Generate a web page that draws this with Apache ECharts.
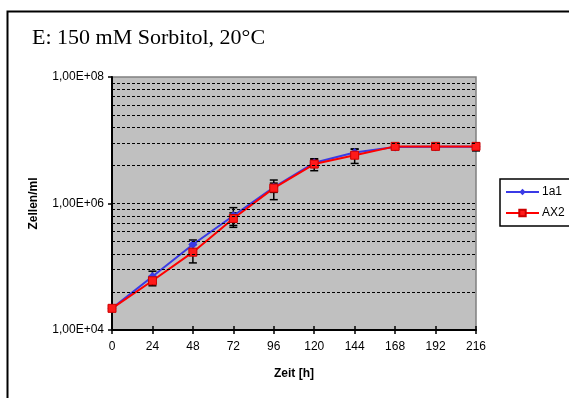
<!DOCTYPE html>
<html>
<head>
<meta charset="utf-8">
<script src="https://cdn.jsdelivr.net/npm/echarts@6/dist/echarts.min.js"></script>
<style>
  html, body { margin: 0; padding: 0; background: #fff; }
  #chart { width: 569px; height: 398px; }
</style>
</head>
<body>
<div id="chart"></div>
<script>
// Growth curves: cells per ml over time, two strains
const hours = [0, 24, 48, 72, 96, 120, 144, 168, 192, 216];
const cells1a1 = [2.2e4, 7.0e4, 2.25e5, 6.4e5, 1.8e6, 4.4e6, 6.4e6, 7.8e6, 7.9e6, 7.9e6];
const cellsAX2 = [2.2e4, 6.0e4, 1.7e5, 5.8e5, 1.75e6, 4.2e6, 5.8e6, 8.0e6, 8.0e6, 8.0e6];
// standard deviations
const sd1a1 = [1.0e3, 1.5e4, 4.0e4, 2.2e5, 3.0e5, 6.0e5, 8.0e5, 6.0e5, 3.0e5, 1.1e6];
const sdAX2 = [1.0e3, 1.0e4, 5.5e4, 1.3e5, 6.0e5, 9.0e5, 1.5e6, 4.0e5, 3.0e5, 1.1e6];
// minor gridline multipliers inside each 1e2 step of the axis
const gridSteps = [1e4, 1e6];
const gridFactors = [2, 3, 4, 5, 6, 7, 8, 9];
const hourTicks = 24;

const FONT = 'Liberation Sans, Arial, sans-serif';

function pairs(ys) { return hours.map((t, i) => [t, ys[i]]); }
function errRows(ys, sd) { return hours.map((t, i) => [t, ys[i] - sd[i], ys[i] + sd[i]]); }

// dashed gridlines: each value v*k^2 sits at log10(k) of a 100x step
const gridValues = [1e6];
gridSteps.forEach(base => gridFactors.forEach(k => gridValues.push(base * k * k)));

function errorBar(params, api) {
  const x = api.value(0);
  const lo = api.coord([x, api.value(1)]);
  const hi = api.coord([x, api.value(2)]);
  const c = 4;
  const style = { stroke: '#000', lineWidth: 1.5 };
  return {
    type: 'group',
    children: [
      { type: 'line', shape: { x1: lo[0], y1: lo[1], x2: hi[0], y2: hi[1] }, style },
      { type: 'line', shape: { x1: lo[0] - c, y1: lo[1], x2: lo[0] + c, y2: lo[1] }, style },
      { type: 'line', shape: { x1: hi[0] - c, y1: hi[1], x2: hi[0] + c, y2: hi[1] }, style }
    ]
  };
}

const chart = echarts.init(document.getElementById('chart'), null, { renderer: 'canvas' });

chart.setOption({
  animation: false,
  backgroundColor: '#fff',
  graphic: [
    { type: 'rect', left: 5, top: 9, shape: { width: 620, height: 460 },
      style: { fill: 'none', stroke: '#000', lineWidth: 2 }, silent: true },
    { type: 'text', left: 32, top: 27,
      style: { text: 'E: 150 mM Sorbitol, 20°C', font: '22px "Liberation Serif", "Times New Roman", serif', fill: '#000' } }
  ],
  grid: {
    left: 112, right: 93, top: 77, bottom: 68,
    show: true, backgroundColor: '#c0c0c0', borderColor: '#808080', borderWidth: 1.5
  },
  legend: {
    data: ['1a1', 'AX2'],
    orient: 'vertical',
    left: 500, top: 179,
    padding: [7, 40, 7, 5],
    itemWidth: 33, itemHeight: 8, itemGap: 9,
    borderColor: '#000', borderWidth: 1.5, backgroundColor: '#fff',
    textStyle: { fontFamily: FONT, fontSize: 12, color: '#000', padding: [0, 0, 0, -2] }
  },
  xAxis: [
    {
      type: 'value', min: 0, max: 216, interval: hourTicks,
      name: 'Zeit [h]', nameLocation: 'middle', nameGap: 38,
      nameTextStyle: { fontFamily: FONT, fontSize: 12, fontWeight: 'bold', color: '#000' },
      axisLine: { lineStyle: { color: '#000', width: 2 } },
      axisTick: { length: 4, lineStyle: { color: '#000', width: 1.5 } },
      axisLabel: { fontFamily: FONT, fontSize: 12, color: '#000', margin: 11 },
      splitLine: { show: false }
    },
    {
      type: 'value', min: 0, max: 216, interval: hourTicks, position: 'bottom',
      axisLine: { show: false },
      axisTick: { inside: true, length: 4, lineStyle: { color: '#000', width: 1.5 } },
      axisLabel: { show: false },
      splitLine: { show: false }
    }
  ],
  yAxis: {
    type: 'log', logBase: 100, min: 1e4, max: 1e8,
    name: 'Zellen/ml', nameLocation: 'middle', nameGap: 72,
    nameTextStyle: { fontFamily: FONT, fontSize: 12, fontWeight: 'bold', color: '#000' },
    axisLine: { show: true, lineStyle: { color: '#000', width: 2 } },
    axisTick: { show: true, length: 4, lineStyle: { color: '#000', width: 1.5 } },
    axisLabel: {
      fontFamily: FONT, fontSize: 12, color: '#000', margin: 8,
      formatter: v => '1,00E+' + String(Math.round(Math.log10(v))).padStart(2, '0')
    },
    splitLine: { show: false }
  },
  series: [
    {
      type: 'custom', name: 'err1a1', renderItem: errorBar, data: errRows(cells1a1, sd1a1),
      encode: { x: 0, y: [1, 2] }, z: 2, silent: true,
      markLine: {
        silent: true, symbol: 'none', label: { show: false },
        lineStyle: { color: '#000', type: [3, 2], width: 1 },
        data: gridValues.map(v => ({ yAxis: v }))
      }
    },
    {
      type: 'custom', name: 'errAX2', renderItem: errorBar, data: errRows(cellsAX2, sdAX2),
      encode: { x: 0, y: [1, 2] }, z: 2, silent: true
    },
    {
      type: 'line', name: '1a1', data: pairs(cells1a1), z: 3,
      symbol: 'diamond', symbolSize: 9,
      lineStyle: { color: '#3a3ae6', width: 2 },
      itemStyle: { color: '#3a3ae6' }
    },
    {
      type: 'line', name: 'AX2', data: pairs(cellsAX2), z: 4,
      symbol: 'rect', symbolSize: 8,
      lineStyle: { color: '#ff0000', width: 2 },
      itemStyle: { color: '#ff1a1a', borderColor: '#cc0000', borderWidth: 1 }
    }
  ]
});
</script>
</body>
</html>
